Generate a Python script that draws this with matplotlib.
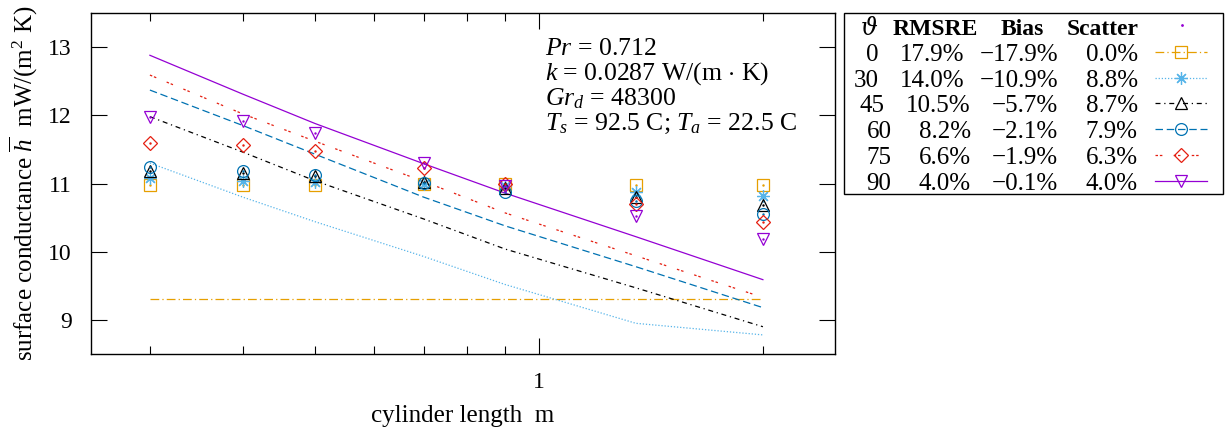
import matplotlib
matplotlib.use("Agg")
import matplotlib.pyplot as plt
from matplotlib.ticker import FixedLocator, NullFormatter, FormatStrFormatter
from matplotlib.patches import Rectangle

plt.rcParams['font.family'] = ['Liberation Serif', 'DejaVu Serif']
plt.rcParams['mathtext.fontset'] = 'custom'
plt.rcParams['mathtext.rm'] = 'Liberation Serif'
plt.rcParams['mathtext.it'] = 'Liberation Serif:italic'
plt.rcParams['mathtext.bf'] = 'Liberation Serif:bold'
plt.rcParams['font.size'] = 17

# cylinder lengths (m)
lengths = [0.3, 0.4, 0.5, 0.7, 0.9, 1.35, 2.0]
angles = ["0", "30", "45", "60", "75", "90"]

# measured surface conductance, one list per inclination
meas_0 = [10.98, 10.98, 10.98, 10.99, 10.99, 10.98, 10.98]
meas_30 = [11.08, 11.04, 11.02, 11.00, 10.96, 10.88, 10.82]
meas_45 = [11.19, 11.16, 11.11, 11.02, 10.94, 10.80, 10.68]
meas_60 = [11.24, 11.18, 11.13, 11.01, 10.87, 10.75, 10.55]
meas_75 = [11.60, 11.57, 11.48, 11.22, 11.00, 10.70, 10.43]
meas_90 = [11.98, 11.91, 11.74, 11.30, 10.97, 10.53, 10.18]

# model curves
model_0 = [9.30, 9.30, 9.30, 9.30, 9.30, 9.30, 9.30]
model_30 = [11.30, 10.80, 10.44, 9.93, 9.52, 8.95, 8.78]
model_45 = [11.98, 11.46, 11.04, 10.48, 10.04, 9.47, 8.90]
model_60 = [12.37, 11.85, 11.43, 10.80, 10.38, 9.78, 9.18]
model_75 = [12.59, 12.02, 11.62, 11.03, 10.57, 9.94, 9.33]
model_90 = [12.88, 12.31, 11.88, 11.29, 10.86, 10.22, 9.59]

rmsre = ["17.9%", "14.0%", "10.5%", "8.2%", "6.6%", "4.0%"]
bias = ["\u221217.9%", "\u221210.9%", "\u22125.7%", "\u22122.1%", "\u22121.9%", "\u22120.1%"]
scatter = ["0.0%", "8.8%", "8.7%", "7.9%", "6.3%", "4.0%"]

meas = [meas_0, meas_30, meas_45, meas_60, meas_75, meas_90]
models = [model_0, model_30, model_45, model_60, model_75, model_90]

colors = ["#E69F00", "#56B4E9", "#000000", "#0072B2", "#E51E10", "#9400D3"]
styles = [(0, (7, 2.5, 1, 2.5)), (0, (1, 1.5)), (0, (4, 3, 1, 3)),
          (0, (6, 3)), (0, (2, 1.5, 2, 9)), "-"]
markers = ["s", (8, 2, 0), "^", "o", "D", "v"]
msizes = [8.5, 9, 8.5, 8.5, 7, 8.5]

fig = plt.figure(figsize=(12.3, 4.4), dpi=100)
ax = fig.add_axes([91 / 1230, 86 / 440, 744 / 1230, 341 / 440])

for i in range(6):
    ax.plot(lengths, models[i], color=colors[i], ls=styles[i], lw=0.9)
for i in range(6):
    ax.plot(lengths, meas[i], ls="none", marker=markers[i], ms=msizes[i],
            mfc="none", mec=colors[i], mew=0.9)
    ax.plot(lengths, meas[i], ls="none", marker=".", ms=1.5, color=colors[i])

ax.set_xscale("log")
ax.set_xlim(0.25, 2.5)
ax.set_ylim(8.5, 13.5)
ax.xaxis.set_major_locator(FixedLocator([1]))
ax.xaxis.set_major_formatter(FormatStrFormatter("%g"))
ax.xaxis.set_minor_locator(FixedLocator([0.3, 0.4, 0.5, 0.6, 0.7, 0.8, 0.9, 2]))
ax.xaxis.set_minor_formatter(NullFormatter())
ax.set_yticks([9, 10, 11, 12, 13])
ax.tick_params(which="both", direction="in", top=True, right=True, width=0.8)
ax.tick_params(which="major", length=11.5, pad=13)
ax.tick_params(axis="y", which="major", pad=14)
ax.tick_params(which="minor", length=5.5)
for s in ax.spines.values():
    s.set_linewidth(1.0)

ax.set_xlabel("cylinder length  m", fontsize=18)
ax.xaxis.set_label_coords(0.5, -0.15)
ax.set_ylabel(r"surface conductance $\overline{h}$  mW/(m$^2$ K)", fontsize=18)
ax.yaxis.set_label_coords(-0.069, 0.5)

# overlay in pixel coordinates for annotation and key table
lax = fig.add_axes([0, 0, 1, 1])
lax.set_xlim(0, 1230)
lax.set_ylim(440, 0)
lax.axis("off")

notes = [r"$Pr$ = 0.712", r"$k$ = 0.0287 W/(m $\cdot$ K)", r"$Gr_d$ = 48300",
         r"$T_s$ = 92.5 C; $T_a$ = 22.5 C"]
for j, t in enumerate(notes):
    lax.text(545, 55 + 25 * j, t, ha="left", va="baseline", fontsize=18.5)

lax.add_patch(Rectangle((844, 13), 379, 181, fill=False, lw=1.0, ec="black"))
lax.text(869, 35, "\u03d1", ha="center", va="baseline", style="italic",
         family=["DejaVu Serif"], fontsize=17)
lax.text(978, 35, "RMSRE", ha="right", va="baseline", weight="bold")
lax.text(1044, 35, "Bias", ha="right", va="baseline", weight="bold")
lax.text(1139, 35, "Scatter", ha="right", va="baseline", weight="bold")
lax.plot([1181.7], [25.3], marker=".", ms=2, color="#9400D3")

theta_x = [872, 866, 872, 879, 879, 879]
rmsre_x = [964, 964, 970.7, 970.7, 970.7, 970.7]
for i in range(6):
    yb = 60.7 + 25.9 * i
    lax.text(theta_x[i], yb, angles[i], ha="center", va="baseline", fontsize=18)
    lax.text(rmsre_x[i], yb, rmsre[i], ha="right", va="baseline", fontsize=18)
    lax.text(1058.3, yb, bias[i], ha="right", va="baseline", fontsize=18)
    lax.text(1137.7, yb, scatter[i], ha="right", va="baseline", fontsize=18)
    yc = yb - 9
    lax.plot([1155, 1207], [yc, yc], color=colors[i], ls=styles[i], lw=0.9)
    lax.plot([1181], [yc], marker=markers[i], ms=msizes[i], mfc="none",
             mec=colors[i], mew=0.9)

fig.savefig("out.png", dpi=100)
